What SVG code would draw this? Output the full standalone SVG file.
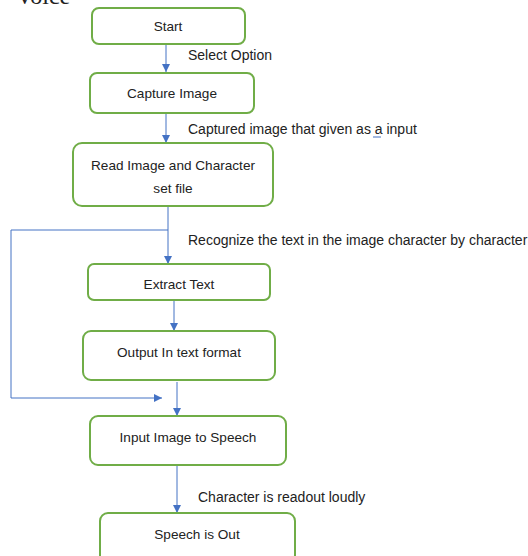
<svg xmlns="http://www.w3.org/2000/svg" width="528" height="556" viewBox="0 0 528 556">
<style>
.box{fill:#fff;stroke:#70ad47;stroke-width:2}
.t{font-family:"Liberation Sans",Arial,sans-serif;font-size:13.6px;fill:#222;text-anchor:middle}
.l{font-family:"Liberation Sans",Arial,sans-serif;font-size:14px;fill:#222}
.c{fill:none;stroke:#4472c4;stroke-width:1}
</style>
<defs>
<marker id="ah" markerWidth="10" markerHeight="10" refX="9" refY="5" orient="auto" markerUnits="userSpaceOnUse">
<path d="M1,1 L9,5 L1,9 Z" fill="#4472c4"/>
</marker>
</defs>
<rect width="528" height="556" fill="#fff"/>
<text x="16" y="4" style="font-family:'Liberation Serif',serif;font-size:24px;fill:#222">Voice</text>
<g id="connectors">
<line class="c" x1="166" y1="44" x2="166" y2="72" marker-end="url(#ah)"/>
<line class="c" x1="166" y1="113" x2="166" y2="143" marker-end="url(#ah)"/>
<line class="c" x1="168" y1="206" x2="168" y2="264" marker-end="url(#ah)"/>
<polyline class="c" points="168,230 11,230 11,398 162,398" marker-end="url(#ah)"/>
<line class="c" x1="174" y1="300" x2="174" y2="331" marker-end="url(#ah)"/>
<line class="c" x1="177" y1="382" x2="177" y2="416" marker-end="url(#ah)"/>
<line class="c" x1="177" y1="465" x2="177" y2="513" marker-end="url(#ah)"/>
<text class="l" x="188" y="60">Select Option</text>
<text class="l" x="188" y="134">Captured image that given as a input</text>
<line x1="373" y1="137" x2="381" y2="137" stroke="#4472c4" stroke-width="1"/>
<text class="l" x="188" y="245">Recognize the text in the image character by character</text>
<text class="l" x="198" y="502">Character is readout loudly</text>
</g>
<g id="start"><rect class="box" x="92" y="8" width="153" height="36" rx="7"/><text class="t" x="168" y="31">Start</text></g>
<g id="capture"><rect class="box" x="90" y="73" width="164" height="40" rx="7"/><text class="t" x="172" y="98">Capture Image</text></g>
<g id="read"><rect class="box" x="73" y="143" width="200" height="63" rx="9"/><text class="t" x="173" y="170">Read Image and Character</text><text class="t" x="173" y="193">set file</text></g>
<g id="extract"><rect class="box" x="88" y="264" width="182" height="36" rx="6"/><text class="t" x="179" y="289">Extract Text</text></g>
<g id="output"><rect class="box" x="83" y="331" width="192" height="49" rx="8"/><text class="t" x="179" y="357">Output In text format</text></g>
<g id="input"><rect class="box" x="90" y="416" width="196" height="49" rx="8"/><text class="t" x="188" y="442">Input Image to Speech</text></g>
<g id="speech"><rect class="box" x="100" y="513" width="195" height="50" rx="8"/><text class="t" x="197" y="539">Speech is Out</text></g>
</svg>
